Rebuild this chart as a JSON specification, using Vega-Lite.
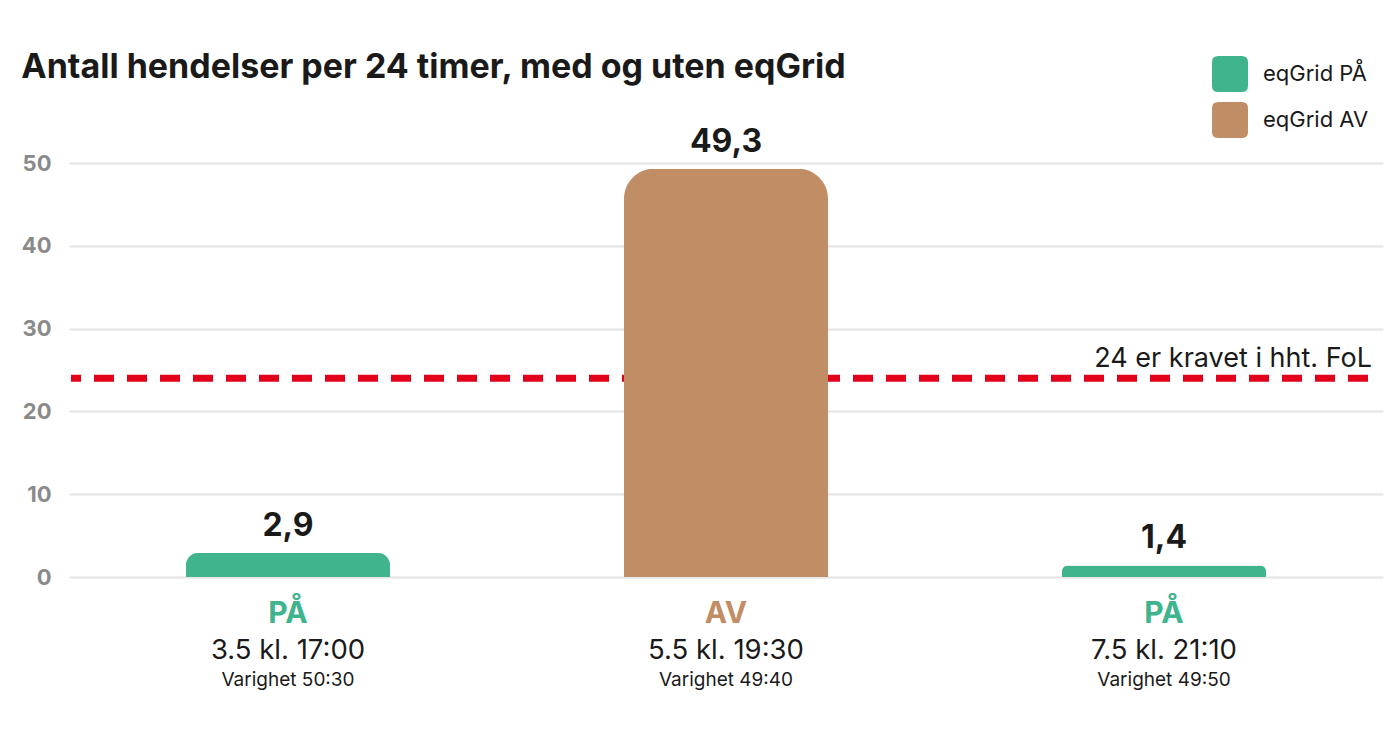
{
  "$schema": "https://vega.github.io/schema/vega-lite/v6.json",
  "width": 1297,
  "height": 414,
  "autosize": "none",
  "padding": {"left": 71, "top": 163, "right": 32, "bottom": 175},
  "background": "#ffffff",
  "title": {
    "text": "Antall hendelser per 24 timer, med og uten eqGrid",
    "anchor": "start",
    "frame": "bounds",
    "font": "Inter",
    "fontSize": 34,
    "fontWeight": "bold",
    "color": "#1a1a1a",
    "dy": 33
  },
  "config": {
    "view": {"stroke": null},
    "font": "Inter"
  },
  "datasets": {
    "hendelser": [
      {"dato": "3.5 kl. 17:00", "status": "PÅ", "serie": "eqGrid PÅ", "verdi": 2.9, "etikett": "2,9", "varighet": "Varighet 50:30"},
      {"dato": "5.5 kl. 19:30", "status": "AV", "serie": "eqGrid AV", "verdi": 49.3, "etikett": "49,3", "varighet": "Varighet 49:40"},
      {"dato": "7.5 kl. 21:10", "status": "PÅ", "serie": "eqGrid PÅ", "verdi": 1.4, "etikett": "1,4", "varighet": "Varighet 49:50"}
    ],
    "krav": [
      {"krav": 24, "tekst": "24 er kravet i hht. FoL"}
    ]
  },
  "layer": [
    {
      "data": {"name": "krav"},
      "mark": {"type": "rule", "color": "#e2001a", "strokeWidth": 7, "strokeDash": [20, 13], "strokeCap": "butt"},
      "encoding": {
        "y": {"field": "krav", "type": "quantitative"}
      }
    },
    {
      "data": {"name": "krav"},
      "mark": {"type": "text", "align": "right", "baseline": "alphabetic", "fontSize": 27, "color": "#1a1a1a", "dx": 4, "dy": -11, "x": {"expr": "width"}},
      "encoding": {
        "y": {"field": "krav", "type": "quantitative"},
        "text": {"field": "tekst"}
      }
    },
    {
      "data": {"name": "hendelser"},
      "mark": {"type": "bar", "width": 204, "cornerRadiusTopLeft": 30, "cornerRadiusTopRight": 30},
      "encoding": {
        "x": {
          "field": "dato",
          "type": "nominal",
          "sort": null,
          "axis": null,
          "scale": {"range": [-2, 1312], "paddingInner": 0, "paddingOuter": 0}
        },
        "y": {
          "field": "verdi",
          "type": "quantitative",
          "title": null,
          "scale": {"domain": [0, 50]},
          "axis": {
            "values": [0, 10, 20, 30, 40, 50],
            "domain": false,
            "ticks": false,
            "labelPadding": 20,
            "labelFontSize": 22,
            "labelFontWeight": "bold",
            "labelColor": "#8a8a8a",
            "gridColor": "#e3e3e3",
            "gridWidth": 2
          }
        },
        "color": {
          "field": "serie",
          "type": "nominal",
          "scale": {"domain": ["eqGrid PÅ", "eqGrid AV"], "range": ["#40b48c", "#c18d65"]},
          "legend": {
            "title": null,
            "orient": "none",
            "legendX": 1141,
            "legendY": -107,
            "padding": 0,
            "symbolType": "M -0.65,-1 L 0.65,-1 Q 1,-1 1,-0.65 L 1,0.65 Q 1,1 0.65,1 L -0.65,1 Q -1,1 -1,0.65 L -1,-0.65 Q -1,-1 -0.65,-1 Z",
            "symbolSize": 1296,
            "symbolStrokeWidth": 0,
            "symbolOpacity": 1,
            "labelFontSize": 22,
            "labelColor": "#1a1a1a",
            "labelOffset": 15,
            "rowPadding": 10
          }
        }
      }
    },
    {
      "data": {"name": "hendelser"},
      "mark": {"type": "text", "baseline": "alphabetic", "fontSize": 32, "fontWeight": "bold", "color": "#1a1a1a", "dy": -17},
      "encoding": {
        "x": {"field": "dato", "type": "nominal", "sort": null},
        "y": {"field": "verdi", "type": "quantitative"},
        "text": {"field": "etikett"}
      }
    },
    {
      "data": {"name": "hendelser"},
      "mark": {"type": "text", "baseline": "alphabetic", "fontSize": 30, "fontWeight": "bold", "dy": 46},
      "encoding": {
        "x": {"field": "dato", "type": "nominal", "sort": null},
        "y": {"datum": 0, "type": "quantitative"},
        "text": {"field": "status"},
        "color": {"field": "serie", "type": "nominal"}
      }
    },
    {
      "data": {"name": "hendelser"},
      "mark": {"type": "text", "baseline": "alphabetic", "fontSize": 27.5, "color": "#1a1a1a", "dy": 82},
      "encoding": {
        "x": {"field": "dato", "type": "nominal", "sort": null},
        "y": {"datum": 0, "type": "quantitative"},
        "text": {"field": "dato"}
      }
    },
    {
      "data": {"name": "hendelser"},
      "mark": {"type": "text", "baseline": "alphabetic", "fontSize": 19, "color": "#1a1a1a", "dy": 109},
      "encoding": {
        "x": {"field": "dato", "type": "nominal", "sort": null},
        "y": {"datum": 0, "type": "quantitative"},
        "text": {"field": "varighet"}
      }
    }
  ]
}
